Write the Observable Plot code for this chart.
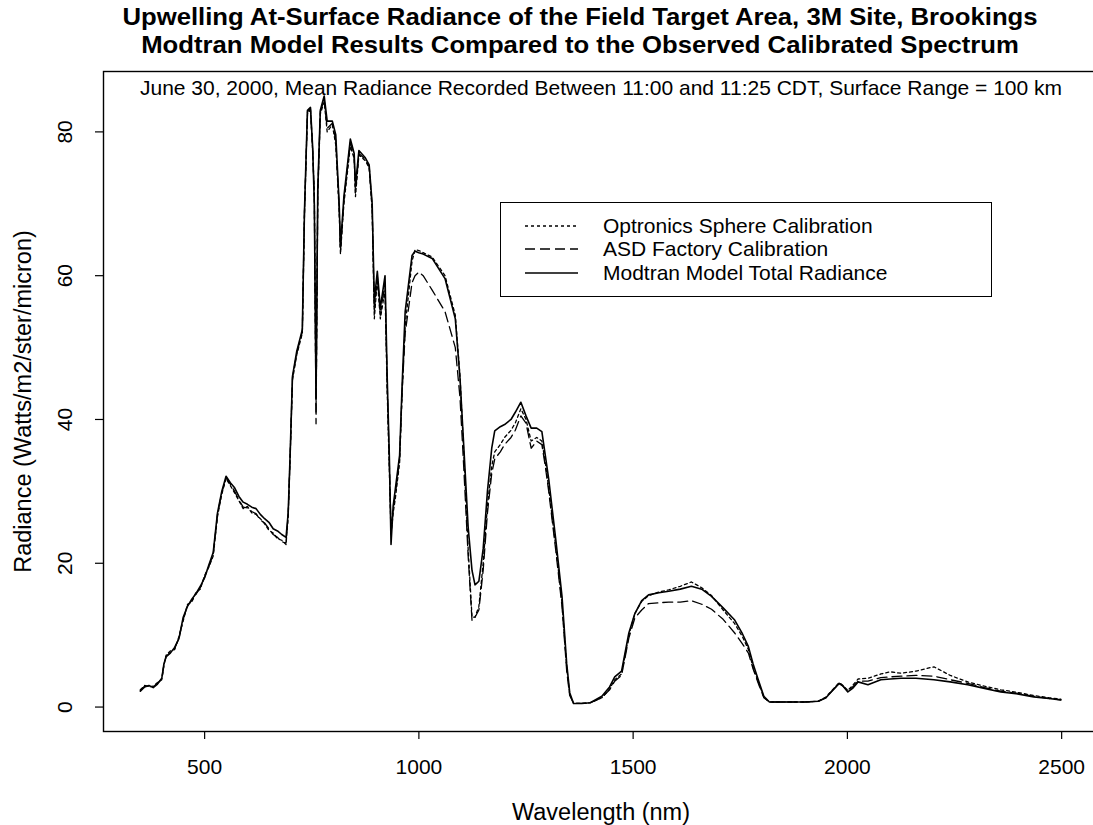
<!DOCTYPE html>
<html><head><meta charset="utf-8">
<script src="https://cdn.jsdelivr.net/npm/d3@7"></script>
<script src="https://cdn.jsdelivr.net/npm/@observablehq/plot@0.6"></script>
<style>
html,body{margin:0;padding:0;background:#fff;overflow:hidden;}
#wrap{position:relative;width:1100px;height:825px;font-family:"Liberation Sans",Arial,sans-serif;color:#000;}
#title{position:absolute;left:0;top:3px;width:1160px;height:58px;text-align:center;font-family:"Liberation Sans",Arial,sans-serif;font-weight:bold;font-size:24px;}
#title div{height:28px;line-height:28px;white-space:nowrap;transform:scaleX(1.07);transform-origin:center;}
#chart{position:absolute;left:0;top:62px;}
#legend{position:absolute;left:500px;top:202px;width:492px;height:95px;border:1.3px solid #000;box-sizing:border-box;background:#fff;font-size:21px;}
.row{position:absolute;left:0;height:23px;display:flex;align-items:center;white-space:nowrap;}
.row svg{margin-left:24px;margin-right:25px;}
</style></head>
<body><div id="wrap">
<div id="title"><div id="t1"></div><div id="t2"></div></div>
<div id="chart"></div>
<div id="legend"></div>
</div>
<script>
const titleLines = ["Upwelling At-Surface Radiance of the Field Target Area, 3M Site, Brookings",
                    "Modtran Model Results Compared to the Observed Calibrated Spectrum"];
const subtitle = "June 30, 2000, Mean Radiance Recorded Between 11:00 and 11:25 CDT, Surface Range = 100 km";
const xLabel = "Wavelength (nm)";
const yLabel = "Radiance (Watts/m2/ster/micron)";
const xTicks = [500, 1000, 1500, 2000, 2500];
const yTicks = [0, 20, 40, 60, 80];
const seriesNames = ["Optronics Sphere Calibration", "ASD Factory Calibration", "Modtran Model Total Radiance"];

const wavelength = [
 350,360,370,380,390,400,405,410,420,430,
 440,450,460,470,480,490,500,510,520,530,
 540,550,560,570,580,590,600,610,620,630,
 640,650,660,670,680,690,695,700,705,715,
 728,733,740,747,752,756,760,764,770,779,
 786,798,806,814,817,825,840,849,852,860,
 875,884,891,896,903,910,921,926,931,935,
 940,945,955,961,968,984,991,1000,1010,1031,
 1061,1085,1096,1105,1115,1124,1131,1140,1150,1160,
 1170,1177,1190,1200,1215,1225,1238,1250,1262,1275,
 1287,1295,1303,1320,1334,1345,1352,1361,1380,1400,
 1427,1445,1457,1473,1490,1504,1520,1536,1560,1583,
 1610,1636,1660,1683,1710,1737,1755,1769,1780,1792,
 1805,1818,1860,1900,1932,1950,1962,1981,1990,2001,
 2012,2025,2048,2078,2100,2125,2160,2202,2240,2281,
 2320,2358,2400,2435,2470,2498];

const optronics = [
 2.4,3.0,2.8,2.9,3.4,3.8,5.8,7.2,7.8,8.0,
 9.8,12.0,14.3,14.6,16.0,16.4,18.3,19.5,21.0,26.5,
 29.6,31.8,30.8,29.8,28.7,27.6,27.9,27.0,26.8,26.2,
 25.5,24.6,24.2,23.4,23.2,22.6,26.5,35.5,45.5,49.0,
 52.0,68.5,82.5,83.0,77.5,71.5,41.0,71.0,82.5,84.2,
 80.0,81.0,78.2,69.0,63.0,70.0,78.0,76.3,71.0,76.8,
 76.0,75.0,69.0,54.0,59.5,54.0,58.0,44.0,33.0,24.0,
 27.0,29.0,34.0,44.0,53.0,62.0,63.6,63.5,63.2,62.6,
 60.0,54.5,46.0,35.0,22.0,12.5,12.5,14.0,20.0,28.0,
 33.5,35.5,36.5,37.5,38.5,39.5,41.5,40.0,37.0,37.5,
 37.0,34.0,30.5,22.0,14.5,5.5,1.8,0.5,0.5,0.6,
 1.3,2.5,3.8,4.6,10.0,13.0,14.7,15.5,16.0,16.3,
 16.8,17.4,16.6,15.5,13.5,11.6,9.8,8.0,5.5,3.5,
 1.4,0.7,0.7,0.7,0.8,1.4,2.2,3.4,3.0,2.3,
 3.0,3.9,4.0,4.6,4.9,4.7,5.0,5.6,4.4,3.5,
 2.9,2.4,2.0,1.6,1.3,1.1];

const asd = [
 2.3,2.9,2.9,2.8,3.3,3.9,5.9,7.0,7.6,8.1,
 9.6,12.2,14.1,14.8,15.7,16.6,18.1,19.6,21.2,26.8,
 29.8,31.9,31.0,30.0,28.8,27.8,27.7,27.2,26.9,26.0,
 25.6,24.8,24.0,23.6,23.0,22.8,26.8,35.8,45.8,49.2,
 52.2,68.8,82.8,83.2,77.8,71.0,39.4,71.5,82.8,84.5,
 80.5,81.2,78.8,69.5,63.5,70.5,78.5,76.5,71.5,77.0,
 76.2,75.2,69.5,55.0,60.0,54.5,59.0,45.0,34.0,25.0,
 27.5,29.5,34.5,44.0,52.0,59.0,60.0,60.5,60.0,58.0,
 55.0,50.0,43.0,33.0,21.0,12.0,12.5,13.5,19.0,27.0,
 32.5,34.5,35.5,36.5,37.5,38.5,40.5,39.5,36.0,37.0,
 36.5,33.5,30.0,21.5,14.0,5.0,1.6,0.5,0.5,0.6,
 1.3,2.4,3.6,4.4,9.6,12.4,13.5,14.4,14.5,14.6,
 14.6,14.8,14.3,13.6,12.2,10.3,8.8,7.5,5.3,3.3,
 1.3,0.7,0.7,0.7,0.8,1.3,2.1,3.3,2.9,2.2,
 2.8,3.6,3.6,4.1,4.2,4.3,4.4,4.3,3.8,3.3,
 2.7,2.2,1.9,1.5,1.2,1.0];

const modtran = [
 2.2,2.8,3.0,2.7,3.2,4.0,6.0,7.0,7.5,8.3,
 9.5,12.5,14.0,15.0,15.8,16.8,18.0,19.8,21.5,27.0,
 30.0,32.1,31.2,30.5,29.3,28.5,28.2,27.8,27.6,26.8,
 26.2,25.7,24.8,24.5,24.0,23.6,27.0,36.0,46.0,49.5,
 52.5,69.0,83.0,83.4,78.0,70.0,43.0,72.0,83.0,85.0,
 81.5,81.5,79.6,70.0,64.0,71.0,79.0,77.0,72.5,77.4,
 76.4,75.4,70.0,56.5,60.6,55.5,60.0,46.0,35.0,22.6,
 28.0,30.3,35.0,45.0,55.0,62.8,63.4,63.2,63.0,62.4,
 59.6,54.0,45.7,36.0,25.0,19.0,17.0,17.5,22.0,30.0,
 36.0,38.4,39.0,39.3,40.0,41.0,42.4,40.5,38.8,38.8,
 38.3,35.0,31.7,23.0,15.4,6.0,2.0,0.5,0.5,0.6,
 1.5,2.8,4.2,5.0,10.3,13.0,14.8,15.6,15.9,16.1,
 16.4,16.8,16.4,15.4,13.8,12.1,10.2,8.4,6.0,3.8,
 1.5,0.7,0.7,0.7,0.8,1.3,2.1,3.3,2.9,2.1,
 2.6,3.5,3.1,3.8,3.9,4.0,4.0,3.8,3.5,3.1,
 2.6,2.1,1.8,1.4,1.2,1.0];

document.getElementById("t1").textContent = titleLines[0];
document.getElementById("t2").textContent = titleLines[1];

const dashes = ["3,3", "10,5", null];
const widths = [1.3, 1.3, 1.6];
const valueSets = [optronics, asd, modtran];

const lineMarks = valueSets.map((vals, k) =>
  Plot.line(wavelength.map((w, i) => ({wl: w, val: vals[i]})), {
    x: "wl", y: "val", stroke: "#000", strokeWidth: widths[k],
    strokeDasharray: dashes[k] || undefined
  }));

const chart = Plot.plot({
  width: 1100, height: 763,
  marginLeft: 103, marginRight: 2, marginTop: 9, marginBottom: 94,
  style: {fontFamily: '"Liberation Sans", Arial, sans-serif', fontSize: "21px", background: "#fff", color: "#000"},
  x: {domain: [264, 2586]},
  y: {domain: [-3.4, 88.4]},
  marks: [
    Plot.frame({stroke: "#000", strokeWidth: 1.4}),
    Plot.axisX(xTicks, {tickSize: 8, tickPadding: 20, fontSize: 21, label: null, strokeWidth: 1.2, tickFormat: d => String(d)}),
    Plot.axisY(yTicks, {tickSize: 8, tickFormat: () => "", label: null, strokeWidth: 1.2}),
    Plot.text(yTicks, {y: d => d, text: d => String(d), frameAnchor: "left", textAnchor: "middle", lineAnchor: "middle", dx: -38, rotate: -90, fontSize: 21}),
    Plot.text([yLabel], {frameAnchor: "left", textAnchor: "middle", lineAnchor: "middle", dx: -80, dy: 0, rotate: -90, fontSize: 23.5}),
    Plot.text([xLabel], {frameAnchor: "bottom", lineAnchor: "middle", dy: 81, fontSize: 23.5}),
    Plot.text([subtitle], {frameAnchor: "top", lineAnchor: "top", dy: 9, fontSize: 21}),
    ...lineMarks
  ]
});
document.getElementById("chart").appendChild(chart);

// legend
const legend = document.getElementById("legend");
seriesNames.forEach((name, k) => {
  const row = document.createElement("div");
  row.className = "row";
  row.style.top = (11 + k * 23.5) + "px";
  row.innerHTML = `<svg width="53" height="10"><line x1="0" x2="53" y1="5" y2="5" stroke="#000" stroke-width="${widths[k]}" ${dashes[k] ? `stroke-dasharray="${dashes[k]}"` : ""}/></svg><span>${name}</span>`;
  legend.appendChild(row);
});
</script>
</body></html>
